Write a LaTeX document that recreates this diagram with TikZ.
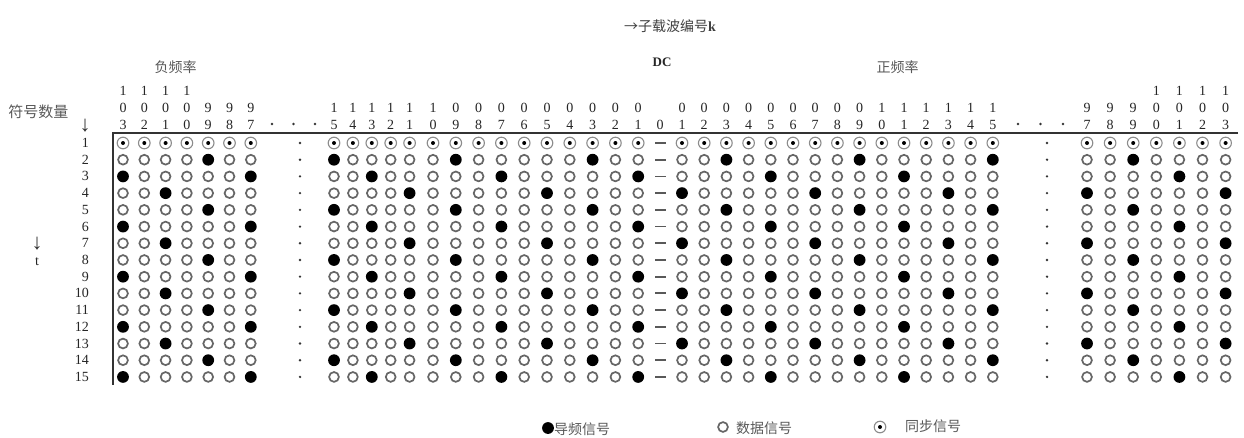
\documentclass[tikz,border=0pt]{standalone}
\usepackage{fontspec}
\setmainfont{Liberation Serif}
\newfontfamily\cjk{Noto Sans CJK SC}
\begin{document}
\begin{tikzpicture}[x=1pt,y=-1pt,
  lab/.style={inner sep=0pt,font=\fontsize{14}{14}\selectfont,text=black!85},
  cjklab/.style={inner sep=0pt,font=\cjk\fontsize{14}{14}\selectfont,text=black!65},
  datasig/.style={circle,draw=black!60,line width=1.7pt,minimum size=9.8pt,inner sep=0pt},
  pilot/.style={circle,fill=black,minimum size=11.8pt,inner sep=0pt},
  syncsig/.style={circle,draw=black!45,line width=1.1pt,minimum size=11.6pt,inner sep=0pt,
     path picture={\fill[black] (path picture bounding box.center) circle[radius=2pt];}},
  gapdot/.style={circle,fill=black!80,minimum size=2.6pt,inner sep=0pt},
  dcdash/.style={fill=black!65,minimum width=11pt,minimum height=1.8pt,inner sep=0pt},
  arrowlab/.style={inner sep=0pt,font=\fontsize{22}{22}\selectfont,text=black!80},
  axis/.style={draw=black!80,line width=1.4pt}]
\useasboundingbox[fill=white] (0,0) rectangle (1244,437);
\def\allcols{-103/123,-102/144.3,-101/165.6,-100/186.9,-99/208.2,-98/229.5,-97/250.8,
 -15/334,-14/352.9,-13/371.8,-12/390.7,-11/409.6,-10/433,-9/455.8,-8/478.6,-7/501.4,-6/524.2,-5/547,-4/569.8,-3/592.6,-2/615.4,-1/638.2,
 1/682,2/704.2,3/726.4,4/748.6,5/770.8,6/793,7/815.2,8/837.4,9/859.6,10/881.8,11/904,12/926.2,13/948.4,14/970.6,15/992.8,
 97/1087,98/1110.1,99/1133.2,100/1156.3,101/1179.4,102/1202.5,103/1225.6}
% titles
\node[cjklab,text=black!75] (title) at (670,26) {→子载波编号{\fontspec{Liberation Serif}\bfseries k}};
\node[lab,font=\fontsize{13}{13}\selectfont\bfseries] (dc) at (662,62) {DC};
\node[cjklab] (neg) at (175.5,67) {负频率};
\node[cjklab] (pos) at (897.5,67) {正频率};
\node[cjklab,font=\cjk\fontsize{15}{15}\selectfont] (sym) at (38.5,112) {符号数量};
\node[arrowlab] (symarrow) at (85,125.5) {↓};
\node[arrowlab] (tarrow) at (37,244) {↓};
\node[lab] (tlab) at (37,262) {t};
% header digits
\foreach \k/\x in \allcols {
  \pgfmathtruncatemacro\ak{abs(\k)}
  \pgfmathtruncatemacro\dH{int(\ak/100)}
  \pgfmathtruncatemacro\dT{Mod(int(\ak/10),10)}
  \pgfmathtruncatemacro\dU{Mod(\ak,10)}
  \ifnum\dH>0 \node[lab] (h\k) at (\x,91) {\dH}; \fi
  \node[lab] (t\k) at (\x,108) {\dT};
  \node[lab] (u\k) at (\x,124.5) {\dU};
}
\node[lab] (u0) at (660,124.5) {0};
% header gap dots
\foreach \i/\x in {1/272,2/293.5,3/315,4/1018,5/1040.5,6/1063}
  \node[gapdot] (hd\i) at (\x,124) {};
% axes
\coordinate (corner) at (113,133);
\coordinate (axR) at (1238,133);
\coordinate (axB) at (113,385);
\draw[axis] (axR) -- (corner) -- (axB);
% row labels, dots, DC dashes
\foreach \r in {1,...,15} {
  \pgfmathsetmacro\y{143+16.71*(\r-1)}
  \node[lab,anchor=east] (r\r) at (89,\y) {\r};
  \node[gapdot] (ld\r) at (300,\y) {};
  \node[gapdot] (rd\r) at (1047,\y) {};
  \node[dcdash] (dcd\r) at (660,\y) {};
}
% row 1 sync
\foreach \k/\x in \allcols
  \node[syncsig] (s1_\k) at (\x,143) {};
% rows 2..15
\foreach \r in {2,...,15} {
  \pgfmathsetmacro\y{143+16.71*(\r-1)}
  \pgfmathtruncatemacro\q{Mod(\r-2,3)}
  \pgfmathtruncatemacro\res{\q==0 ? 3 : (\q==1 ? 5 : 1)}
  \foreach \k/\x in \allcols {
    \pgfmathtruncatemacro\m{Mod(\k,6)}
    \ifnum\m=\res
      \node[pilot] (s\r_\k) at (\x,\y) {};
    \else
      \node[datasig] (s\r_\k) at (\x,\y) {};
    \fi
  }
}
% legend
\node[pilot] (legP) at (548,428) {};
\node[cjklab,anchor=west] (legPt) at (554,429) {导频信号};
\node[datasig] (legD) at (723,427) {};
\node[cjklab,anchor=west] (legDt) at (736,428) {数据信号};
\node[syncsig] (legS) at (880,427) {};
\node[cjklab,anchor=west] (legSt) at (905,426) {同步信号};
\end{tikzpicture}
\end{document}
